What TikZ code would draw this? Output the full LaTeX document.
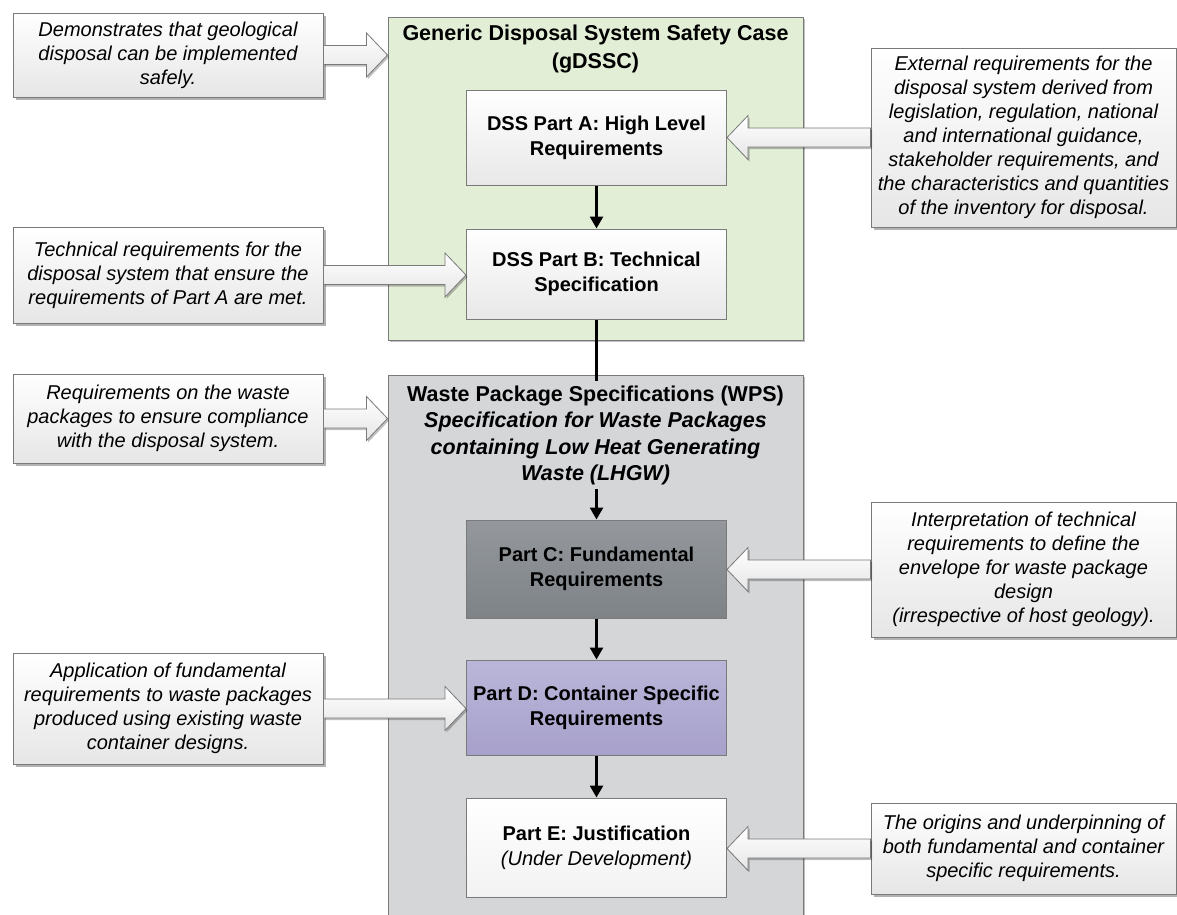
\documentclass[tikz,border=0pt]{standalone}
\usepackage{fontspec}
\setmainfont{Liberation Sans}
\usetikzlibrary{arrows.meta,calc,shadows}

\definecolor{edgegray}{HTML}{7A7A7A}
\definecolor{gdsscgreen}{HTML}{E3EED6}
\definecolor{wpsgray}{HTML}{D5D6D8}
\definecolor{ctop}{HTML}{94989D}
\definecolor{cbottom}{HTML}{7E8388}
\definecolor{dtop}{HTML}{BAB6D9}
\definecolor{dbottom}{HTML}{A7A1CB}
\definecolor{notebottom}{HTML}{E6E6E6}

\newcommand\notefont{\fontsize{20}{24}\selectfont\itshape}
\newcommand\partfont{\fontsize{20}{25}\selectfont\bfseries}
\newcommand\headfont{\fontsize{21.5}{27}\selectfont\bfseries}

\tikzset{
  outline/.style={draw=edgegray, line width=1pt},
  container/.style={outline, rectangle, inner sep=0pt,
    drop shadow={shadow xshift=1.5pt, shadow yshift=-1.5pt, opacity=0.25, fill=black}},
  headtext/.style={align=center, inner sep=0pt, font=\headfont},
  partbox/.style={outline, rectangle, inner sep=0pt, align=center, font=\partfont,
    minimum width=260pt},
  notebox/.style={outline, rectangle, inner sep=0pt, align=center, font=\notefont,
    top color=white, bottom color=notebottom,
    drop shadow={shadow xshift=2.5pt, shadow yshift=-2.5pt, opacity=0.3, fill=black}},
  flow/.style={line width=2.6pt, -{Triangle[length=12pt,width=13pt]}},
  fatarrowstyle/.style={draw=edgegray, line width=0.8pt, top color=white, bottom color=black!10,
    drop shadow={shadow xshift=1.5pt, shadow yshift=-2pt, opacity=0.25, fill=black}}
}

% hollow block arrow running horizontally from #1 to #2
\newcommand\fatarrow[2]{%
  \draw[fatarrowstyle] let \p1=(#1), \p2=(#2), \n1={sign(\x2-\x1)} in
    (\x1,{\y1+9.5pt}) -- ({\x2-(\n1)*21pt},{\y1+9.5pt}) -- ({\x2-(\n1)*21pt},{\y1+22pt})
    -- (\x2,\y1) -- ({\x2-(\n1)*21pt},{\y1-22pt}) -- ({\x2-(\n1)*21pt},{\y1-9.5pt})
    -- (\x1,{\y1-9.5pt}) -- cycle;}

\begin{document}
\begin{tikzpicture}[x=1pt,y=-1pt]
\clip (0,0) rectangle (1177,914);
\fill[white] (0,0) rectangle (1177,914);

% the two enclosing documents
\node[container, fill=gdsscgreen, minimum width=415pt, minimum height=323pt] (gdssc) at (595.5,178.5) {};
\node[container, fill=wpsgray, minimum width=415pt, minimum height=560pt] (wps) at (595.5,655) {};

\node[headtext, font=\fontsize{21.5}{28}\selectfont\bfseries] (gtitle) at (595.5,49)
  {Generic Disposal System Safety Case\\(gDSSC)};
\node[headtext, font=\fontsize{21.5}{26.3}\selectfont\bfseries] (wtitle) at (595.5,435.5)
  {Waste Package Specifications (WPS)\\
   \itshape Specification for Waste Packages\\
   \itshape containing Low Heat Generating\\
   \itshape Waste (LHGW)};

% parts of the safety case and of the specifications
\node[partbox, minimum height=95pt, top color=white, bottom color=black!9] (pa) at (596.5,137.5)
  {DSS Part A: High Level\\Requirements};
\node[partbox, minimum height=90pt, top color=white, bottom color=black!9] (pb) at (596.5,274)
  {DSS Part B: Technical\\Specification};
\node[partbox, minimum height=98pt, top color=ctop, bottom color=cbottom] (pc) at (596.5,569)
  {Part C: Fundamental\\Requirements};
\node[partbox, minimum height=95pt, top color=dtop, bottom color=dbottom] (pd) at (596.5,707.5)
  {Part D: Container Specific\\Requirements};
\node[partbox, minimum height=99pt, top color=white, bottom color=black!5] (pe) at (596.5,847.5)
  {Part E: Justification\\{\mdseries\itshape (Under Development)}};

% explanatory notes on the left
\node[notebox, minimum width=310pt, minimum height=84pt] (n1) at (168,55)
  {Demonstrates that geological\\disposal can be implemented\\safely.};
\node[notebox, minimum width=310pt, minimum height=96pt] (n2) at (168,275)
  {Technical requirements for the\\disposal system that ensure the\\requirements of Part A are met.};
\node[notebox, minimum width=310pt, minimum height=89pt] (n3) at (168,418.5)
  {Requirements on the waste\\packages to ensure compliance\\with the disposal system.};
\node[notebox, minimum width=310pt, minimum height=111pt] (n4) at (168,708.5)
  {Application of fundamental\\requirements to waste packages\\produced using existing waste\\container designs.};

% explanatory notes on the right
\node[notebox, minimum width=305pt, minimum height=179pt] (r1) at (1023.5,137.5)
  {External requirements for the\\disposal system derived from\\legislation, regulation, national\\and international guidance,\\stakeholder requirements, and\\the characteristics and quantities\\of the inventory for disposal.};
\node[notebox, minimum width=305pt, minimum height=135pt] (r2) at (1023.5,569.5)
  {Interpretation of technical\\requirements to define the\\envelope for waste package\\design\\(irrespective of host geology).};
\node[notebox, minimum width=305pt, minimum height=91pt] (r3) at (1023.5,848.5)
  {The origins and underpinning of\\both fundamental and container\\specific requirements.};

% flow between the parts
\draw[flow] (pa.south) -- (pb.north);
\draw[line width=2.6pt] (pb.south) -- ($(pb.south |- wps.north)+(0,6)$);
\draw[flow] ($(pc.north |- wtitle.south)+(0,4)$) -- (pc.north);
\draw[flow] (pc.south) -- (pd.north);
\draw[flow] (pd.south) -- (pe.north);

% block arrows feeding the notes in
\fatarrow{n1.east}{n1.east -| gdssc.west}
\fatarrow{n2.east}{n2.east -| pb.west}
\fatarrow{n3.east}{n3.east -| wps.west}
\fatarrow{n4.east}{n4.east -| pd.west}
\fatarrow{r1.west}{r1.west -| pa.east}
\fatarrow{r2.west}{r2.west -| pc.east}
\fatarrow{r3.west}{r3.west -| pe.east}
\end{tikzpicture}
\end{document}
